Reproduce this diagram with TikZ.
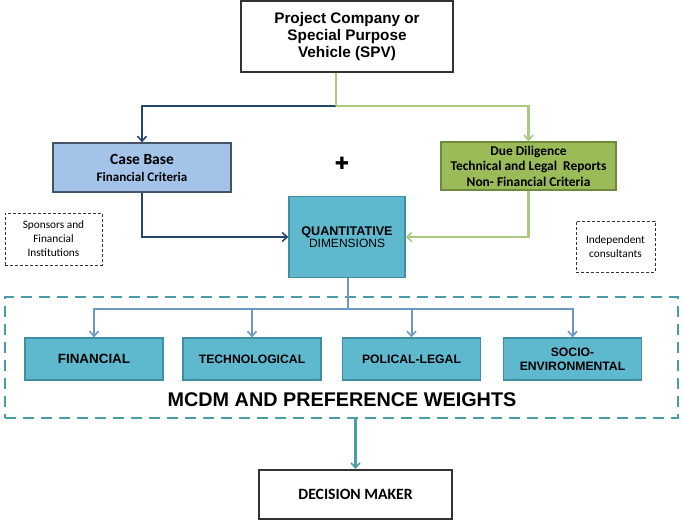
\documentclass[tikz,border=0pt]{standalone}
\usepackage{fontspec}
\setmainfont{Liberation Sans}
\newfontfamily\calibri{Carlito}
\newfontfamily\symbolfont{DejaVu Sans}
\usetikzlibrary{arrows.meta,positioning}

\definecolor{casefill}{HTML}{A4C3E8}
\definecolor{caseline}{HTML}{44556B}
\definecolor{darkarrow}{HTML}{24466E}
\definecolor{greenarrow}{HTML}{AACB7E}
\definecolor{duefill}{HTML}{9BBB59}
\definecolor{dueline}{HTML}{6F8A3C}
\definecolor{quantfill}{HTML}{5FB9CE}
\definecolor{quantline}{HTML}{3F8EA3}
\definecolor{bluearrow}{HTML}{6C98C8}
\definecolor{framecol}{HTML}{4A9CA8}

\tikzset{
  barb/.style={-{Straight Barb[length=5pt,width=9pt,line width=1.6pt]}},
  plainbox/.style={draw=black!80, line width=1.2pt, fill=white, align=center, inner sep=2pt},
  casebox/.style={draw=caseline, line width=1.3pt, fill=casefill, align=center},
  duebox/.style={draw=dueline, line width=1.3pt, fill=duefill, align=center},
  quantbox/.style={draw=quantline, line width=1.3pt, fill=quantfill, align=center},
  notebox/.style={draw=black!80, densely dashed, line width=0.6pt, align=center, font=\calibri\fontsize{11.3}{14}\selectfont},
  critbox/.style={quantbox, minimum width=138pt, minimum height=42pt, font=\bfseries\fontsize{12.2}{14}\selectfont},
}

\begin{document}
\begin{tikzpicture}[x=1pt,y=-1pt]
\useasboundingbox (0,0) rectangle (682,521);

% Top: project company
\node[plainbox, minimum width=212pt, minimum height=71pt, font=\bfseries\fontsize{15.3}{17}\selectfont] (spv) at (347,36.5)
  {Project Company or\\Special Purpose\\Vehicle (SPV)};

% The two sources of criteria
\node[casebox, minimum width=178pt, minimum height=49pt, font=\calibri\bfseries\fontsize{13}{17}\selectfont] (casebase) at (142,167.5)
  {{\fontsize{15.5}{17}\selectfont Case Base}\\Financial Criteria};
\node[duebox, minimum width=175pt, minimum height=48pt, font=\calibri\bfseries\fontsize{13.4}{15.5}\selectfont] (duediligence) at (528.5,166)
  {Due Diligence\\Technical and Legal~ Reports\\Non- Financial Criteria};
\node[font=\symbolfont\fontsize{17}{17}\selectfont] (plus) at (342,163) {✚};

% Who provides them
\node[notebox, minimum width=97pt, minimum height=52pt] (sponsors) at (53.5,239) {Sponsors and\\Financial\\Institutions};
\node[notebox, minimum width=79pt, minimum height=51pt] (consultants) at (615.5,246.5) {Independent\\consultants};

% Centre box
\node[quantbox, minimum width=116pt, minimum height=81pt] (quant) at (347,237)
  {{\bfseries\fontsize{12.6}{14}\selectfont QUANTITATIVE}\\{\fontsize{12}{14}\selectfont DIMENSIONS}};

% Dashed frame round the criteria
\node[draw=framecol, line width=2.6pt, dash pattern=on 11pt off 7pt, minimum width=673pt, minimum height=121pt] (mcdmframe) at (341.5,357.5) {};
\node[font=\bfseries\fontsize{19.8}{21}\selectfont] (mcdm) at (342,400) {MCDM AND PREFERENCE WEIGHTS};

% Criteria boxes
\node[critbox] (financial) at (94,359) {\fontsize{13.4}{15}\selectfont FINANCIAL};
\node[critbox] (technological) at (252,359) {TECHNOLOGICAL};
\node[critbox] (political) at (411.5,359) {POLICAL-LEGAL};
\node[critbox] (socio) at (572.5,359) {SOCIO-\\ENVIRONMENTAL};

% Bottom: decision maker
\node[plainbox, line width=2pt, minimum width=193pt, minimum height=49pt, font=\calibri\bfseries\fontsize{15.7}{18}\selectfont] (decision) at (355.5,494.5) {DECISION MAKER};

% Connectors from the SPV
\coordinate (split) at (336,106);
\draw[darkarrow, line width=2.4pt, barb] (split) -| (casebase.north);
\draw[greenarrow, line width=2.4pt] (spv.south -| split) -- (split);
\draw[greenarrow, line width=2.4pt, barb] (split) -| (duediligence.north);

% Into the quantitative dimensions
\draw[darkarrow, line width=2.4pt, barb] (casebase.south) |- (quant.west);
\draw[greenarrow, line width=2.4pt, barb] (duediligence.south) |- (quant.east);

% Out to the four criteria
\coordinate (hub) at (348,309);
\draw[bluearrow, line width=2pt] (quant.south -| hub) -- (hub);
\foreach \crit in {financial,technological,political,socio}
  \draw[bluearrow, line width=2pt, barb] (hub) -| (\crit.north);

% Down to the decision maker
\draw[framecol, line width=2.4pt, barb] (mcdmframe.south -| decision.north) -- (decision.north);
\end{tikzpicture}
\end{document}
